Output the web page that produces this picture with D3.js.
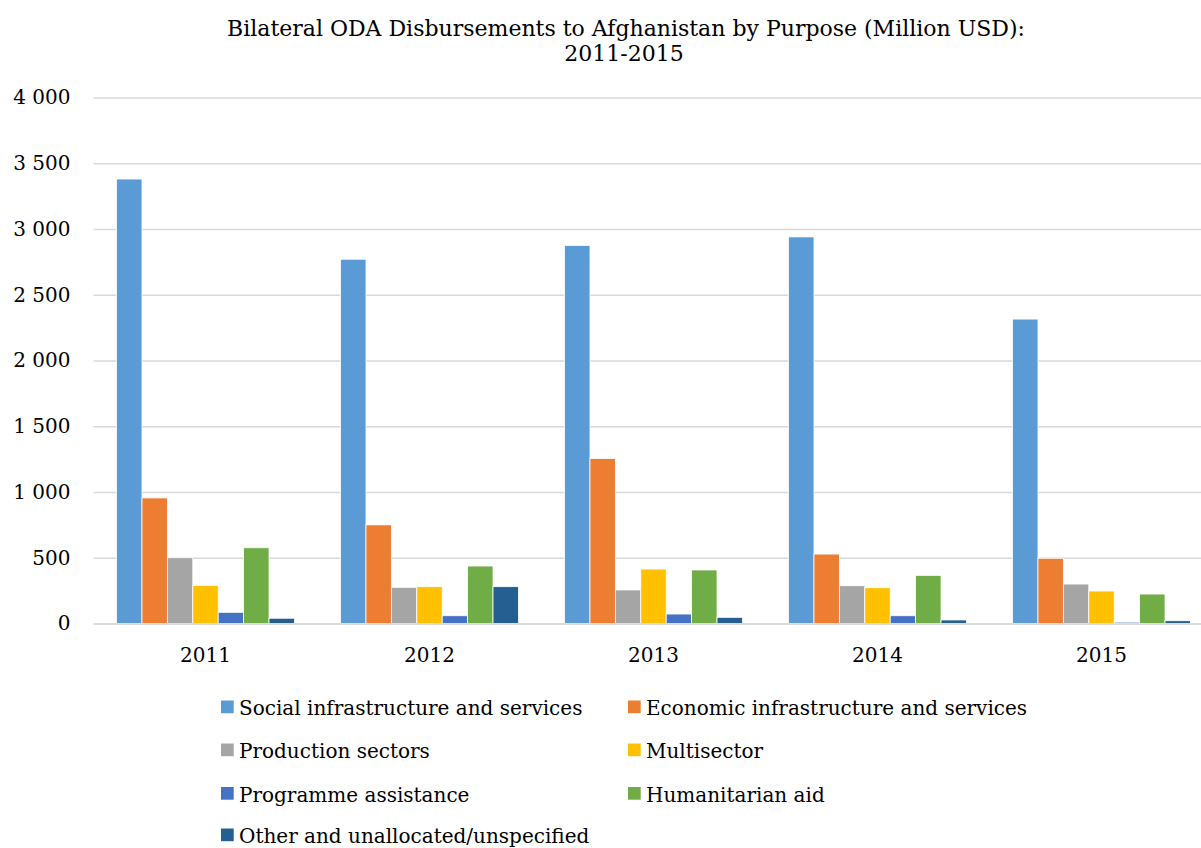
<!DOCTYPE html>
<html>
<head>
<meta charset="utf-8">
<script src="https://cdn.jsdelivr.net/npm/d3@7"></script>
<style>
  html, body { margin: 0; padding: 0; background: #fff; }
  svg { display: block; }
  text { font-family: "DejaVu Serif", "Liberation Serif", serif; fill: #000; }
</style>
</head>
<body>
<svg id="chart" width="1201" height="848"></svg>
<script>
// Bilateral ODA disbursements to Afghanistan, million USD
const years = ["2011", "2012", "2013", "2014", "2015"];
const seriesNames = [
  "Social infrastructure and services",
  "Economic infrastructure and services",
  "Production sectors",
  "Multisector",
  "Programme assistance",
  "Humanitarian aid",
  "Other and unallocated/unspecified"
];
const social       = [3380, 2770, 2875, 2940, 2315];
const economic     = [955, 750, 1255, 528, 496];
const production   = [500, 275, 255, 287, 300];
const multisector  = [290, 280, 414, 272, 247];
const programme    = [85, 59, 72, 59, 10];
const humanitarian = [576, 437, 407, 366, 224];
const other        = [40, 280, 47, 27, 21];
const yTicks = [0, 500, 1000, 1500, 2000, 2500, 3000, 3500, 4000];
const colors = ["#5B9BD5", "#ED7D31", "#A5A5A5", "#FFC000", "#4472C4", "#70AD47", "#255E91"];

const seriesValues = [social, economic, production, multisector, programme, humanitarian, other];

const svg = d3.select("#chart");
const W = 1201, H = 848;

const plot = { left: 93.5, right: 1213.5, top: 97.5, bottom: 623.5 };

svg.append("defs").append("clipPath").attr("id", "clip")
  .append("rect").attr("x", 0).attr("y", 0).attr("width", W).attr("height", H);

const y = d3.scaleLinear().domain([0, 4000]).range([plot.bottom, plot.top]);
const x0 = d3.scaleBand().domain(years).range([plot.left, plot.right])
  .paddingInner(0.206).paddingOuter(0.103);
const x1 = d3.scaleBand().domain(seriesNames).range([0, x0.bandwidth()]);

const fmt = v => d3.format(",")(v).replace(/,/g, " ");

// Title
const title = svg.append("text").attr("text-anchor", "middle").style("font-size", "22px");
title.append("tspan").attr("x", 626).attr("y", 36)
  .text("Bilateral ODA Disbursements to Afghanistan by Purpose (Million USD):");
title.append("tspan").attr("x", 624).attr("y", 61).text("2011-2015");

const g = svg.append("g").attr("clip-path", "url(#clip)");

// Horizontal gridlines
const yAxis = d3.axisLeft(y).tickValues(yTicks).tickSize(-(plot.right - plot.left)).tickFormat(fmt);
const ya = g.append("g").attr("transform", `translate(${plot.left},0)`).call(yAxis);
ya.select(".domain").remove();
ya.selectAll(".tick line").attr("stroke", "#d9d9d9").attr("stroke-width", 1.3);
ya.selectAll(".tick text").attr("x", -23).style("font-size", "20px")
  .style("font-family", "DejaVu Serif, serif").attr("fill", "#000");

// Bars
const rows = years.map((yr, i) => ({ year: yr, vals: seriesNames.map((s, k) => ({ key: s, value: seriesValues[k][i], color: colors[k] })) }));
g.append("g").selectAll("g").data(rows).join("g")
  .attr("transform", d => `translate(${x0(d.year)},0)`)
  .selectAll("rect").data(d => d.vals).join("rect")
  .attr("x", d => x1(d.key))
  .attr("y", d => y(d.value))
  .attr("width", x1.bandwidth())
  .attr("height", d => y(0) - y(d.value))
  .attr("fill", d => d.color)
  .attr("stroke", "#fff")
  .attr("stroke-width", 0.8);

// Category axis
const xAxis = d3.axisBottom(x0).tickSize(0).tickPadding(0);
const xa = g.append("g").attr("transform", `translate(0,${plot.bottom})`).call(xAxis);
xa.select(".domain").attr("stroke", "#d9d9d9").attr("stroke-width", 1.3);
xa.selectAll(".tick text").attr("y", 38).attr("dy", null).style("font-size", "20px")
  .style("font-family", "DejaVu Serif, serif").attr("fill", "#000");

// Legend
const legendCols = [221, 628];
const legendRows = [715, 758, 801.5, 843];
const leg = svg.append("g").selectAll("g").data(seriesNames).join("g")
  .attr("transform", (d, i) => `translate(${legendCols[i % 2]},${legendRows[Math.floor(i / 2)]})`);
leg.append("rect").attr("x", 0).attr("y", -14.5).attr("width", 12.7).attr("height", 12.7)
  .attr("fill", (d, i) => colors[i]);
leg.append("text").attr("x", 18).attr("y", 0).style("font-size", "20px").text(d => d);
</script>
</body>
</html>
